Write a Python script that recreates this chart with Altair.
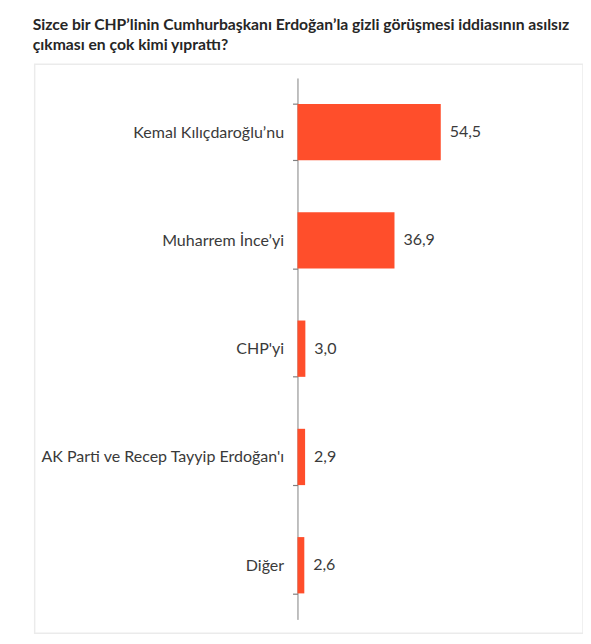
import altair as alt
import pandas as pd

categories = ["Kemal Kılıçdaroğlu’nu", "Muharrem İnce’yi", "CHP'yi",
              "AK Parti ve Recep Tayyip Erdoğan'ı", "Diğer"]
values = [54.5, 36.9, 3.0, 2.9, 2.6]
value_labels = ["54,5", "36,9", "3,0", "2,9", "2,6"]

title_lines = ["Sizce bir CHP’linin Cumhurbaşkanı Erdoğan’la gizli görüşmesi iddiasının asılsız",
               "çıkması en çok kimi yıprattı?"]

df = pd.DataFrame({"kategori": categories, "deger": values, "etiket": value_labels})

W, H = 555, 576
FONT = "Lato"
FS = 16.2

y_enc = alt.Y("kategori:N", sort=categories, title=None,
              scale=alt.Scale(range=[14, 562], paddingInner=0.48, paddingOuter=0.24),
              axis=alt.Axis(offset=-266, tickBand="extent", domainColor="#7f7f7f",
                            ticks=True, tickColor="#7f7f7f", tickSize=5, tickWidth=1.2,
                            labelPadding=9,
                            labelFont=FONT, labelFontSize=FS, labelColor="#3a3a3a",
                            labelLimit=300))
x_enc = alt.X("deger:Q", axis=None,
              scale=alt.Scale(domain=[0, 108.6], range=[266, 555], zero=True, nice=False))

bars = alt.Chart(df).mark_bar(color="#FF4E2B").encode(y=y_enc, x=x_enc)
texts = alt.Chart(df).mark_text(align="left", dx=9, font=FONT, fontSize=FS,
                                color="#3a3a3a").encode(y=y_enc, x=x_enc, text="etiket:N")

chart = (bars + texts).properties(
    width=W, height=H,
    padding={"left": 25, "top": 5, "right": 0, "bottom": 0},
    title=alt.TitleParams(text=title_lines, anchor="start", font=FONT, fontSize=15.9,
                          fontWeight="bold", color="#262626", lineHeight=21, offset=3,
                          dx=-2),
).configure_view(stroke="#ebebeb", strokeWidth=1.5)

chart.save("out.html", embed_options={"renderer": "svg", "actions": False})
